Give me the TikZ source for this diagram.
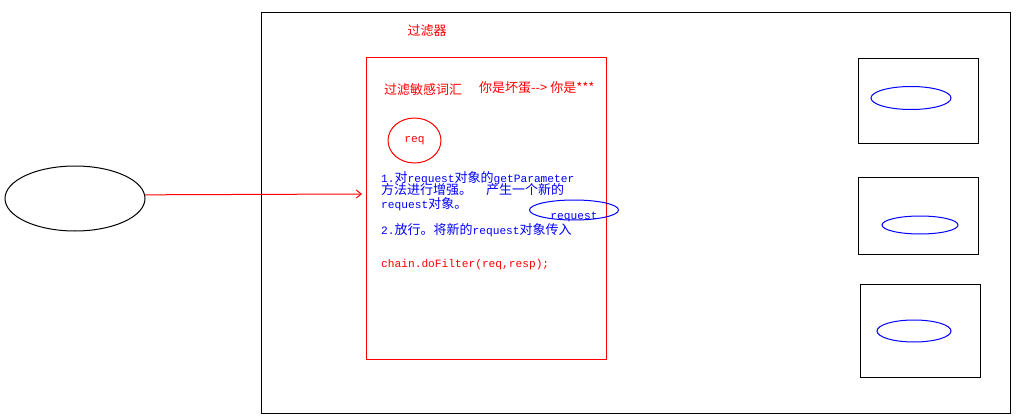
\documentclass[tikz,border=0pt]{standalone}
\usepackage{fontspec}
\setmainfont{Noto Sans CJK SC}
\newfontfamily\latfont{Liberation Mono}
\usetikzlibrary{arrows.meta,shapes.geometric}
\newcommand{\lat}[1]{{\latfont\fontsize{11.2}{13}\selectfont #1}}
\tikzset{
  webbox/.style={draw=black, line width=1pt, minimum width=120pt, inner sep=0pt},
  webellipse/.style={ellipse, draw=blue, line width=1pt, inner sep=0pt},
  redtext/.style={font=\fontsize{13}{13}\selectfont, text=red, inner sep=0pt},
  steptext/.style={font=\fontsize{13}{13}\selectfont, text=blue, anchor=west, inner sep=0pt},
  redarrow/.style={-{Straight Barb[length=5pt,width=8pt]}, draw=red, line width=1pt}
}
\begin{document}
\begin{tikzpicture}[x=1pt,y=-1pt]
  \useasboundingbox (0,0) rectangle (1018,420);
  % server and filter
  \node[draw=black, line width=1pt, minimum width=749pt, minimum height=400pt, inner sep=0pt] (server) at (635.5,213) {};
  \node[redtext] (title) at (427,31) {过滤器};
  \node[draw=red, line width=1pt, minimum width=240pt, minimum height=301pt, inner sep=0pt] (filter) at (486,208.5) {};
  \node[redtext, anchor=west] (sensitive) at (384,90) {过滤敏感词汇};
  \node[redtext, anchor=west] (example) at (479,88) {你是坏蛋{-}{-}> 你是***};
  \node[ellipse, draw=red, line width=1pt, minimum width=53pt, minimum height=45pt, inner sep=0pt, text=red] (req) at (414.5,140.5) {\lat{req}\hspace{14pt}};
  % steps
  \node[steptext] (s1) at (381,178) {\lat{1.}对\lat{request}对象的\lat{getParameter}};
  \node[steptext] (s2) at (381,190) {方法进行增强。\hspace{14pt}产生一个新的};
  \node[steptext] (s3) at (381,204) {\lat{request}对象。};
  \node[webellipse, minimum width=89pt, minimum height=20pt] (newreq) at (574,210) {};
  \node[text=blue, inner sep=0pt] (newreqlab) at (574,216.5) {\lat{request}};
  \node[steptext] (s4) at (381,230) {\lat{2.}放行。将新的\lat{request}对象传入};
  \node[steptext, text=red] (s5) at (381,265) {\lat{chain.doFilter(req,resp);}};
  % resources
  \node[webbox, minimum height=84pt] (res1) at (918,101) {};
  \node[webellipse, minimum width=80pt, minimum height=23pt] (e1) at (911,98) {};
  \node[webbox, minimum height=77pt] (res2) at (918,215.5) {};
  \node[webellipse, minimum width=76pt, minimum height=18pt] (e2) at (920,225) {};
  \node[webbox, minimum height=93pt] (res3) at (920,330.5) {};
  \node[webellipse, minimum width=74pt, minimum height=22pt] (e3) at (914,331) {};
  % client
  \node[ellipse, draw=black, line width=1pt, minimum width=140pt, minimum height=65pt, inner sep=0pt] (client) at (75,198.5) {};
  \coordinate (filterin) at (362,194);
  \draw[redarrow] (client.3) -- (filterin);
\end{tikzpicture}
\end{document}
